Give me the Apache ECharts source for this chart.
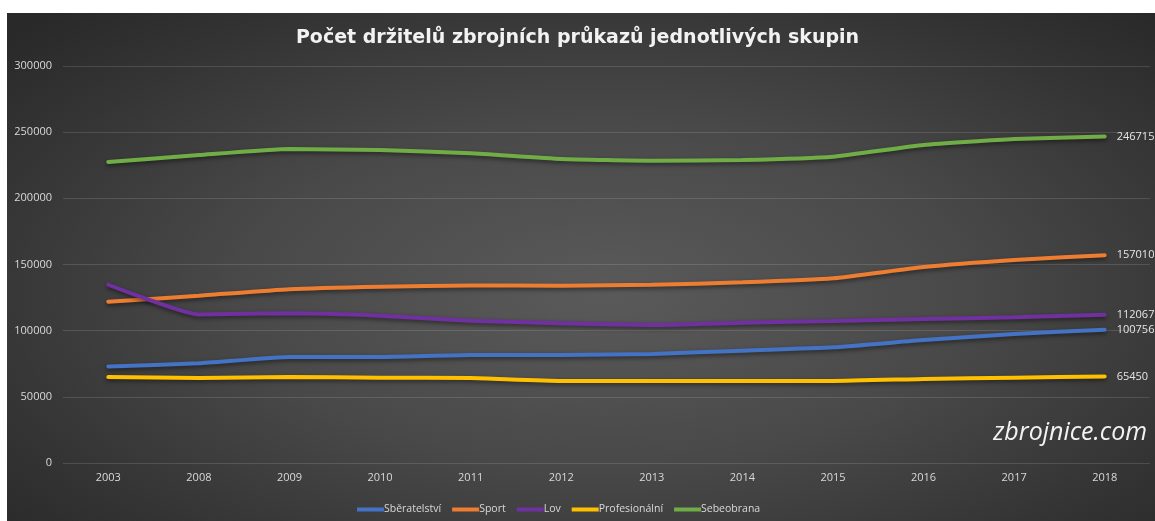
<!DOCTYPE html>
<html><head><meta charset="utf-8">
<script src="https://cdn.jsdelivr.net/npm/echarts@6/dist/echarts.min.js"></script>
<style>
html,body{margin:0;padding:0;background:#fff;width:1155px;height:521px;overflow:hidden}
#bg{position:absolute;left:7px;top:13px;width:1148px;height:508px;background:radial-gradient(ellipse 70% 75% at 52% 55%, #5a5a5a 0%, #494949 45%, #343434 80%, #292929 100%)}
#main{position:absolute;left:0;top:0;width:1155px;height:521px}
</style></head>
<body><div id="bg"></div><div id="main"></div>
<script>
const years = ['2003','2008','2009','2010','2011','2012','2013','2014','2015','2016','2017','2018'];
const sberatelstvi = [73000,75300,80100,80100,81600,81600,82400,84900,87400,92900,97500,100756];
const sport = [121900,126400,131300,133200,134200,134000,134700,136500,139600,148100,153400,157010];
const lov = [134700,112300,113100,111300,107500,105600,104300,106000,107300,108800,110100,112067];
const profesionalni = [65000,64200,65000,64500,64200,62000,62000,62000,62000,63500,64500,65450];
const sebeobrana = [227500,232700,237300,236500,234000,229700,228400,229000,231500,240300,244800,246715];
const yTicks = [0,50000,100000,150000,200000,250000,300000];

const names = ['Sběratelství','Sport','Lov','Profesionální','Sebeobrana'];
const colors = ['#4472C4','#ED7D31','#7030A0','#FFC000','#70AD47'];
const datas = [sberatelstvi,sport,lov,profesionalni,sebeobrana];
const font = '"Open Sans", "Liberation Sans", sans-serif';

const chart = echarts.init(document.getElementById('main'));
chart.setOption({
  backgroundColor:'transparent',
  animation:false,
  textStyle:{fontFamily:font},
  title:{text:'Počet držitelů zbrojních průkazů jednotlivých skupin',left:'center',top:24,
    textStyle:{color:'#f2f2f2',fontSize:19,fontWeight:'bold',fontFamily:'"DejaVu Sans", sans-serif'}},
  legend:{bottom:1,left:352,itemWidth:27,itemHeight:4,itemGap:11,icon:'rect',
    textStyle:{color:'#d9d9d9',fontSize:10.5,padding:[0,0,0,-5]},data:names},
  grid:{left:63,right:5,top:66,bottom:58,containLabel:false},
  xAxis:{type:'category',data:years,boundaryGap:true,
    axisLine:{show:false},axisTick:{show:false},
    axisLabel:{color:'#d9d9d9',fontSize:11,margin:9}},
  yAxis:{type:'value',min:yTicks[0],max:yTicks[yTicks.length-1],interval:yTicks[1]-yTicks[0],
    axisLine:{show:false},axisTick:{show:false},
    axisLabel:{color:'#d9d9d9',fontSize:11,margin:11,formatter:v=>String(v)},
    splitLine:{lineStyle:{color:'rgba(255,255,255,0.13)',width:1}}},
  graphic:[{type:'text',right:8,top:420,style:{text:'zbrojnice.com',fill:'#f2f2f2',font:'italic 25px '+font}}],
  series: names.map((n,i)=>({
    name:n,type:'line',data:datas[i],symbol:'none',smooth:0.15,
    lineStyle:{color:colors[i],width:4,cap:'round',shadowColor:'rgba(0,0,0,0.5)',shadowBlur:4,shadowOffsetY:2},
    itemStyle:{color:colors[i]},
    endLabel:{show:true,distance:12,color:'#e6e6e6',fontSize:11,formatter:p=>String(p.value)},
    emphasis:{disabled:true}
  }))
});
</script></body></html>
